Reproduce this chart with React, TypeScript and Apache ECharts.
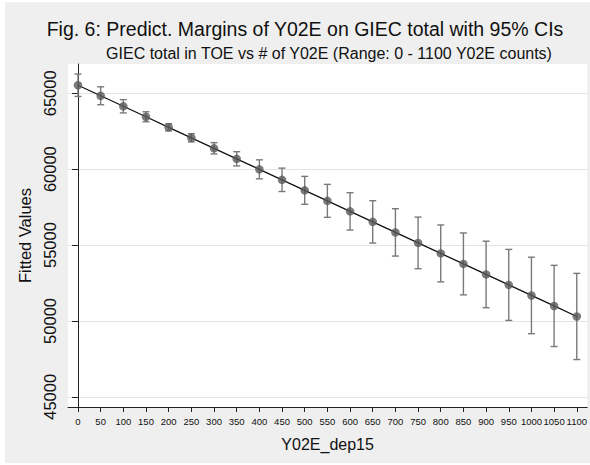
import React, { useEffect, useRef } from "react";
import * as echarts from "echarts";

const xValues = [0, 50, 100, 150, 200, 250, 300, 350, 400, 450, 500, 550, 600, 650, 700, 750, 800, 850, 900, 950, 1000, 1050, 1100];
const fitted = [65530, 64838, 64145, 63453, 62760, 62068, 61375, 60683, 59990, 59298, 58605, 57913, 57220, 56528, 55835, 55143, 54450, 53758, 53065, 52373, 51680, 50988, 50295];
const lower = [64793, 64248, 63708, 63123, 62520, 61795, 61003, 60213, 59365, 58528, 57685, 56828, 55990, 55133, 54275, 53443, 52575, 51718, 50875, 50033, 49160, 48313, 47455];
const upper = [66267, 65428, 64582, 63783, 63000, 62341, 61747, 61153, 60615, 60068, 59525, 58998, 58450, 57923, 57395, 56843, 56325, 55798, 55255, 54713, 54200, 53663, 53135];
const yTicks = [45000, 50000, 55000, 60000, 65000];

const FONT = "'Liberation Sans', Arial, Helvetica, sans-serif";

export default function App() {
  const ref = useRef<HTMLDivElement>(null);
  useEffect(() => {
    if (!ref.current) return;
    const chart = echarts.init(ref.current, undefined, { renderer: "svg" });
    const errData = xValues.map((x, i) => [x, lower[i], upper[i]]);
    const pts = xValues.map((x, i) => [x, fitted[i]]);
    chart.setOption({
      animation: false,
      backgroundColor: "#ffffff",
      textStyle: { fontFamily: FONT },
      graphic: [
        {
          type: "rect",
          z: -10,
          silent: true,
          shape: { x: 5, y: 2, width: 585, height: 461 },
          style: { fill: "#efefef" },
        },
      ],
      title: [
        {
          text: "Fig. 6: Predict. Margins of Y02E on GIEC total with 95% CIs",
          left: 300,
          top: 14,
          textAlign: "center",
          textStyle: { fontFamily: FONT, fontSize: 19.5, fontWeight: "normal", color: "#111" },
        },
        {
          text: "GIEC total in TOE vs # of Y02E (Range: 0 - 1100 Y02E counts)",
          left: 324,
          top: 40,
          textAlign: "center",
          textStyle: { fontFamily: FONT, fontSize: 16, fontWeight: "normal", color: "#111" },
        },
      ],
      grid: {
        left: 68,
        right: 0,
        top: 64,
        bottom: 58,
        show: true,
        backgroundColor: "#ffffff",
        borderWidth: 0,
      },
      xAxis: {
        type: "value",
        min: -22,
        max: 1123,
        name: "Y02E_dep15",
        nameLocation: "middle",
        nameGap: 29,
        nameTextStyle: { fontFamily: FONT, fontSize: 16, color: "#111" },
        axisLine: { show: true, lineStyle: { color: "#222", width: 1 } },
        axisTick: { show: true, length: 5, customValues: xValues, lineStyle: { color: "#222" } },
        axisLabel: {
          customValues: xValues,
          fontSize: 9.5,
          color: "#111",
          margin: 9,
          fontFamily: FONT,
          hideOverlap: false,
          showMaxLabel: true,
          formatter: (v: number) => String(v),
        },
        splitLine: { show: false },
      },
      yAxis: {
        type: "value",
        min: 44330,
        max: 66930,
        name: "Fitted Values",
        nameLocation: "middle",
        nameGap: 27,
        nameRotate: 90,
        nameTextStyle: { fontFamily: FONT, fontSize: 16.5, color: "#111" },
        axisLine: { show: true, lineStyle: { color: "#222", width: 1 } },
        axisTick: { show: true, length: 6, customValues: yTicks, lineStyle: { color: "#222" } },
        axisLabel: {
          customValues: yTicks,
          rotate: 90,
          fontSize: 16.5,
          color: "#111",
          margin: 10,
          fontFamily: FONT,
          formatter: (v: number) => String(v),
        },
        splitLine: { show: true, lineStyle: { color: "#e4e4e4", width: 1 } },
      },
      series: [
        {
          type: "custom",
          data: errData,
          z: 2,
          renderItem: (params: any, api: any) => {
            const x = api.value(0);
            const lo = api.coord([x, api.value(1)]);
            const hi = api.coord([x, api.value(2)]);
            const cap = 3.5;
            const style = { stroke: "#7a7a7a", lineWidth: 1.4 };
            return {
              type: "group",
              children: [
                { type: "line", shape: { x1: lo[0], y1: lo[1], x2: hi[0], y2: hi[1] }, style },
                { type: "line", shape: { x1: lo[0] - cap, y1: lo[1], x2: lo[0] + cap, y2: lo[1] }, style },
                { type: "line", shape: { x1: hi[0] - cap, y1: hi[1], x2: hi[0] + cap, y2: hi[1] }, style },
              ],
            };
          },
        },
        {
          type: "line",
          data: pts,
          z: 3,
          showSymbol: false,
          lineStyle: { color: "#111", width: 1.3 },
          silent: true,
        },
        {
          type: "scatter",
          data: pts,
          z: 4,
          symbol: "circle",
          symbolSize: 8.5,
          itemStyle: { color: "#5a5a5a" },
          silent: true,
        },
      ],
    });
    return () => chart.dispose();
  }, []);
  return (
    <div
      ref={ref}
      style={{ position: "absolute", left: 0, top: 0, width: 590, height: 465 }}
    />
  );
}
